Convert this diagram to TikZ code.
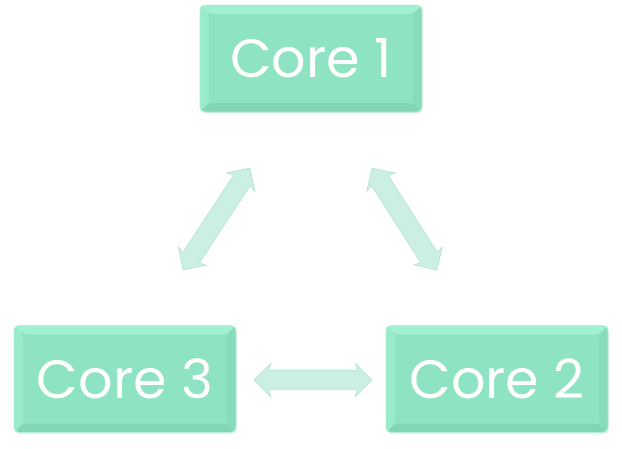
\documentclass[tikz,border=0pt]{standalone}
\usepackage{fontspec}
\setmainfont{Poppins}
\usetikzlibrary{shapes.arrows,shadows}
\definecolor{boxfill}{HTML}{8DE3C2}
\definecolor{boxlight}{HTML}{A0F0D1}
\definecolor{boxdark}{HTML}{80D6B5}
\definecolor{boxedge}{HTML}{B5EEDA}
\definecolor{arrfill}{HTML}{CBEFE1}
\definecolor{arredge}{HTML}{B2E4D1}
\tikzset{
  corebox/.style={rectangle, rounded corners=5pt, fill=boxfill, draw=boxedge, line width=0.8pt,
    minimum width=222pt, minimum height=107pt, text=white, font=\fontsize{54}{56}\selectfont,
    inner sep=0pt,
    drop shadow={shadow xshift=1pt, shadow yshift=-1.5pt, opacity=0.12},
    path picture={
      \def\b{9pt}
      \fill[boxlight] (path picture bounding box.north west) -- (path picture bounding box.north east)
        -- ([xshift=-\b,yshift=-\b]path picture bounding box.north east)
        -- ([xshift=\b,yshift=-\b]path picture bounding box.north west) -- cycle;
      \fill[boxlight!60!boxfill] (path picture bounding box.north west) -- (path picture bounding box.south west)
        -- ([xshift=\b,yshift=\b]path picture bounding box.south west)
        -- ([xshift=\b,yshift=-\b]path picture bounding box.north west) -- cycle;
      \fill[boxdark] (path picture bounding box.south west) -- (path picture bounding box.south east)
        -- ([xshift=-\b,yshift=\b]path picture bounding box.south east)
        -- ([xshift=\b,yshift=\b]path picture bounding box.south west) -- cycle;
      \fill[boxdark!60!boxfill] (path picture bounding box.north east) -- (path picture bounding box.south east)
        -- ([xshift=-\b,yshift=\b]path picture bounding box.south east)
        -- ([xshift=-\b,yshift=-\b]path picture bounding box.north east) -- cycle;
    }},
  linkarrow/.style={double arrow, fill=arrfill, draw=arredge, line width=0.6pt,
    double arrow head extend=7pt, double arrow head indent=2pt,
    inner xsep=0pt, inner ysep=9.5pt}
}
\begin{document}
\begin{tikzpicture}[x=1pt,y=-1pt]
\useasboundingbox (0,0) rectangle (622,448);
\node[corebox] (c1) at (311,58.5) {Core 1};
\node[corebox] (c3) at (125,379) {Core 3};
\node[corebox] (c2) at (497,379) {Core 2};
\node[linkarrow, minimum height=122pt, rotate=56.7] (a13) at (216.5,219) {};
\node[linkarrow, minimum height=121pt, rotate=122.5] (a12) at (404.5,219) {};
\node[linkarrow, minimum height=118pt] (a23) at (313,380) {};
\end{tikzpicture}
\end{document}
